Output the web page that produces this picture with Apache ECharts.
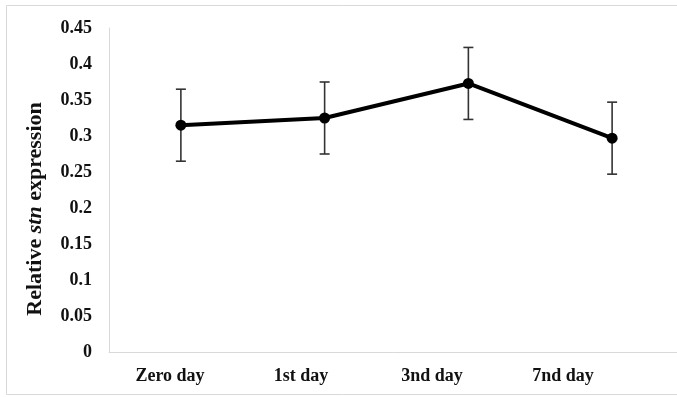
<!DOCTYPE html>
<html><head><meta charset="utf-8">
<script src="https://cdn.jsdelivr.net/npm/echarts@6/dist/echarts.min.js"></script>
<style>html,body{margin:0;padding:0;background:#fff}#c{width:677px;height:397px}</style>
</head><body><div id="c"></div>
<script>
const categories = ['Zero day', '1st day', '3nd day', '7nd day'];
const means = [0.315, 0.325, 0.373, 0.297];
const errors = [0.05, 0.05, 0.05, 0.05];
const yTicks = [0, 0.05, 0.1, 0.15, 0.2, 0.25, 0.3, 0.35, 0.4, 0.45];

const chart = echarts.init(document.getElementById('c'));
const font = '"Liberation Serif", "Times New Roman", serif';
chart.setOption({
  animation: false,
  graphic: [
    {type: 'rect', shape: {x: 6.5, y: 5.5, width: 700, height: 389}, style: {fill: 'none', stroke: '#d9d9d9', lineWidth: 1}, silent: true},
    {type: 'text', x: 35, y: 209, rotation: Math.PI / 2, silent: true,
      style: {text: '{a|Relative }{b|stn}{a| expression}', align: 'center', verticalAlign: 'middle',
        rich: {
          a: {fontFamily: font, fontWeight: 'bold', fontSize: 22, fill: '#111'},
          b: {fontFamily: font, fontWeight: 'bold', fontStyle: 'italic', fontSize: 22, fill: '#111'}
        }}}
  ],
  grid: [
    {left: 109, width: 575, top: 28, bottom: 45, outerBoundsMode: 'none'},
    {left: 104.5, width: 524, top: 28, bottom: 45, outerBoundsMode: 'none'}
  ],
  xAxis: [
    {
      type: 'category', data: categories, gridIndex: 0,
      axisLine: {lineStyle: {color: '#d9d9d9', width: 1}},
      axisTick: {show: false},
      axisLabel: {show: false}
    },
    {
      type: 'category', data: categories, gridIndex: 1,
      axisLine: {show: false},
      axisTick: {show: false},
      axisLabel: {fontFamily: font, fontWeight: 'bold', fontSize: 18, color: '#111', margin: 15}
    }
  ],
  yAxis: [
    {
      type: 'value', min: 0, max: 0.45, interval: 0.05, gridIndex: 0,
      axisLine: {show: true, lineStyle: {color: '#d9d9d9', width: 1}},
      axisTick: {show: false},
      splitLine: {show: false},
      axisLabel: {fontFamily: font, fontWeight: 'bold', fontSize: 18, color: '#111', margin: 17,
        formatter: v => { const t = yTicks.find(x => Math.abs(x - v) < 1e-9); return t === undefined ? '' : String(t); }}
    },
    {type: 'value', gridIndex: 1, show: false}
  ],
  series: [
    {
      type: 'custom',
      data: categories.map((c, i) => [i, means[i] - errors[i], means[i] + errors[i]]),
      renderItem: (params, api) => {
        const lo = api.coord([api.value(0), api.value(1)]);
        const hi = api.coord([api.value(0), api.value(2)]);
        const w = 5;
        const st = {stroke: '#333', lineWidth: 1.6};
        return {type: 'group', children: [
          {type: 'line', shape: {x1: lo[0], y1: lo[1], x2: hi[0], y2: hi[1]}, style: st},
          {type: 'line', shape: {x1: lo[0] - w, y1: lo[1], x2: lo[0] + w, y2: lo[1]}, style: st},
          {type: 'line', shape: {x1: hi[0] - w, y1: hi[1], x2: hi[0] + w, y2: hi[1]}, style: st}
        ]};
      },
      z: 1
    },
    {
      type: 'line', data: means,
      symbol: 'circle', symbolSize: 11,
      lineStyle: {color: '#000', width: 4},
      itemStyle: {color: '#000'},
      z: 2
    }
  ]
});
</script></body></html>
